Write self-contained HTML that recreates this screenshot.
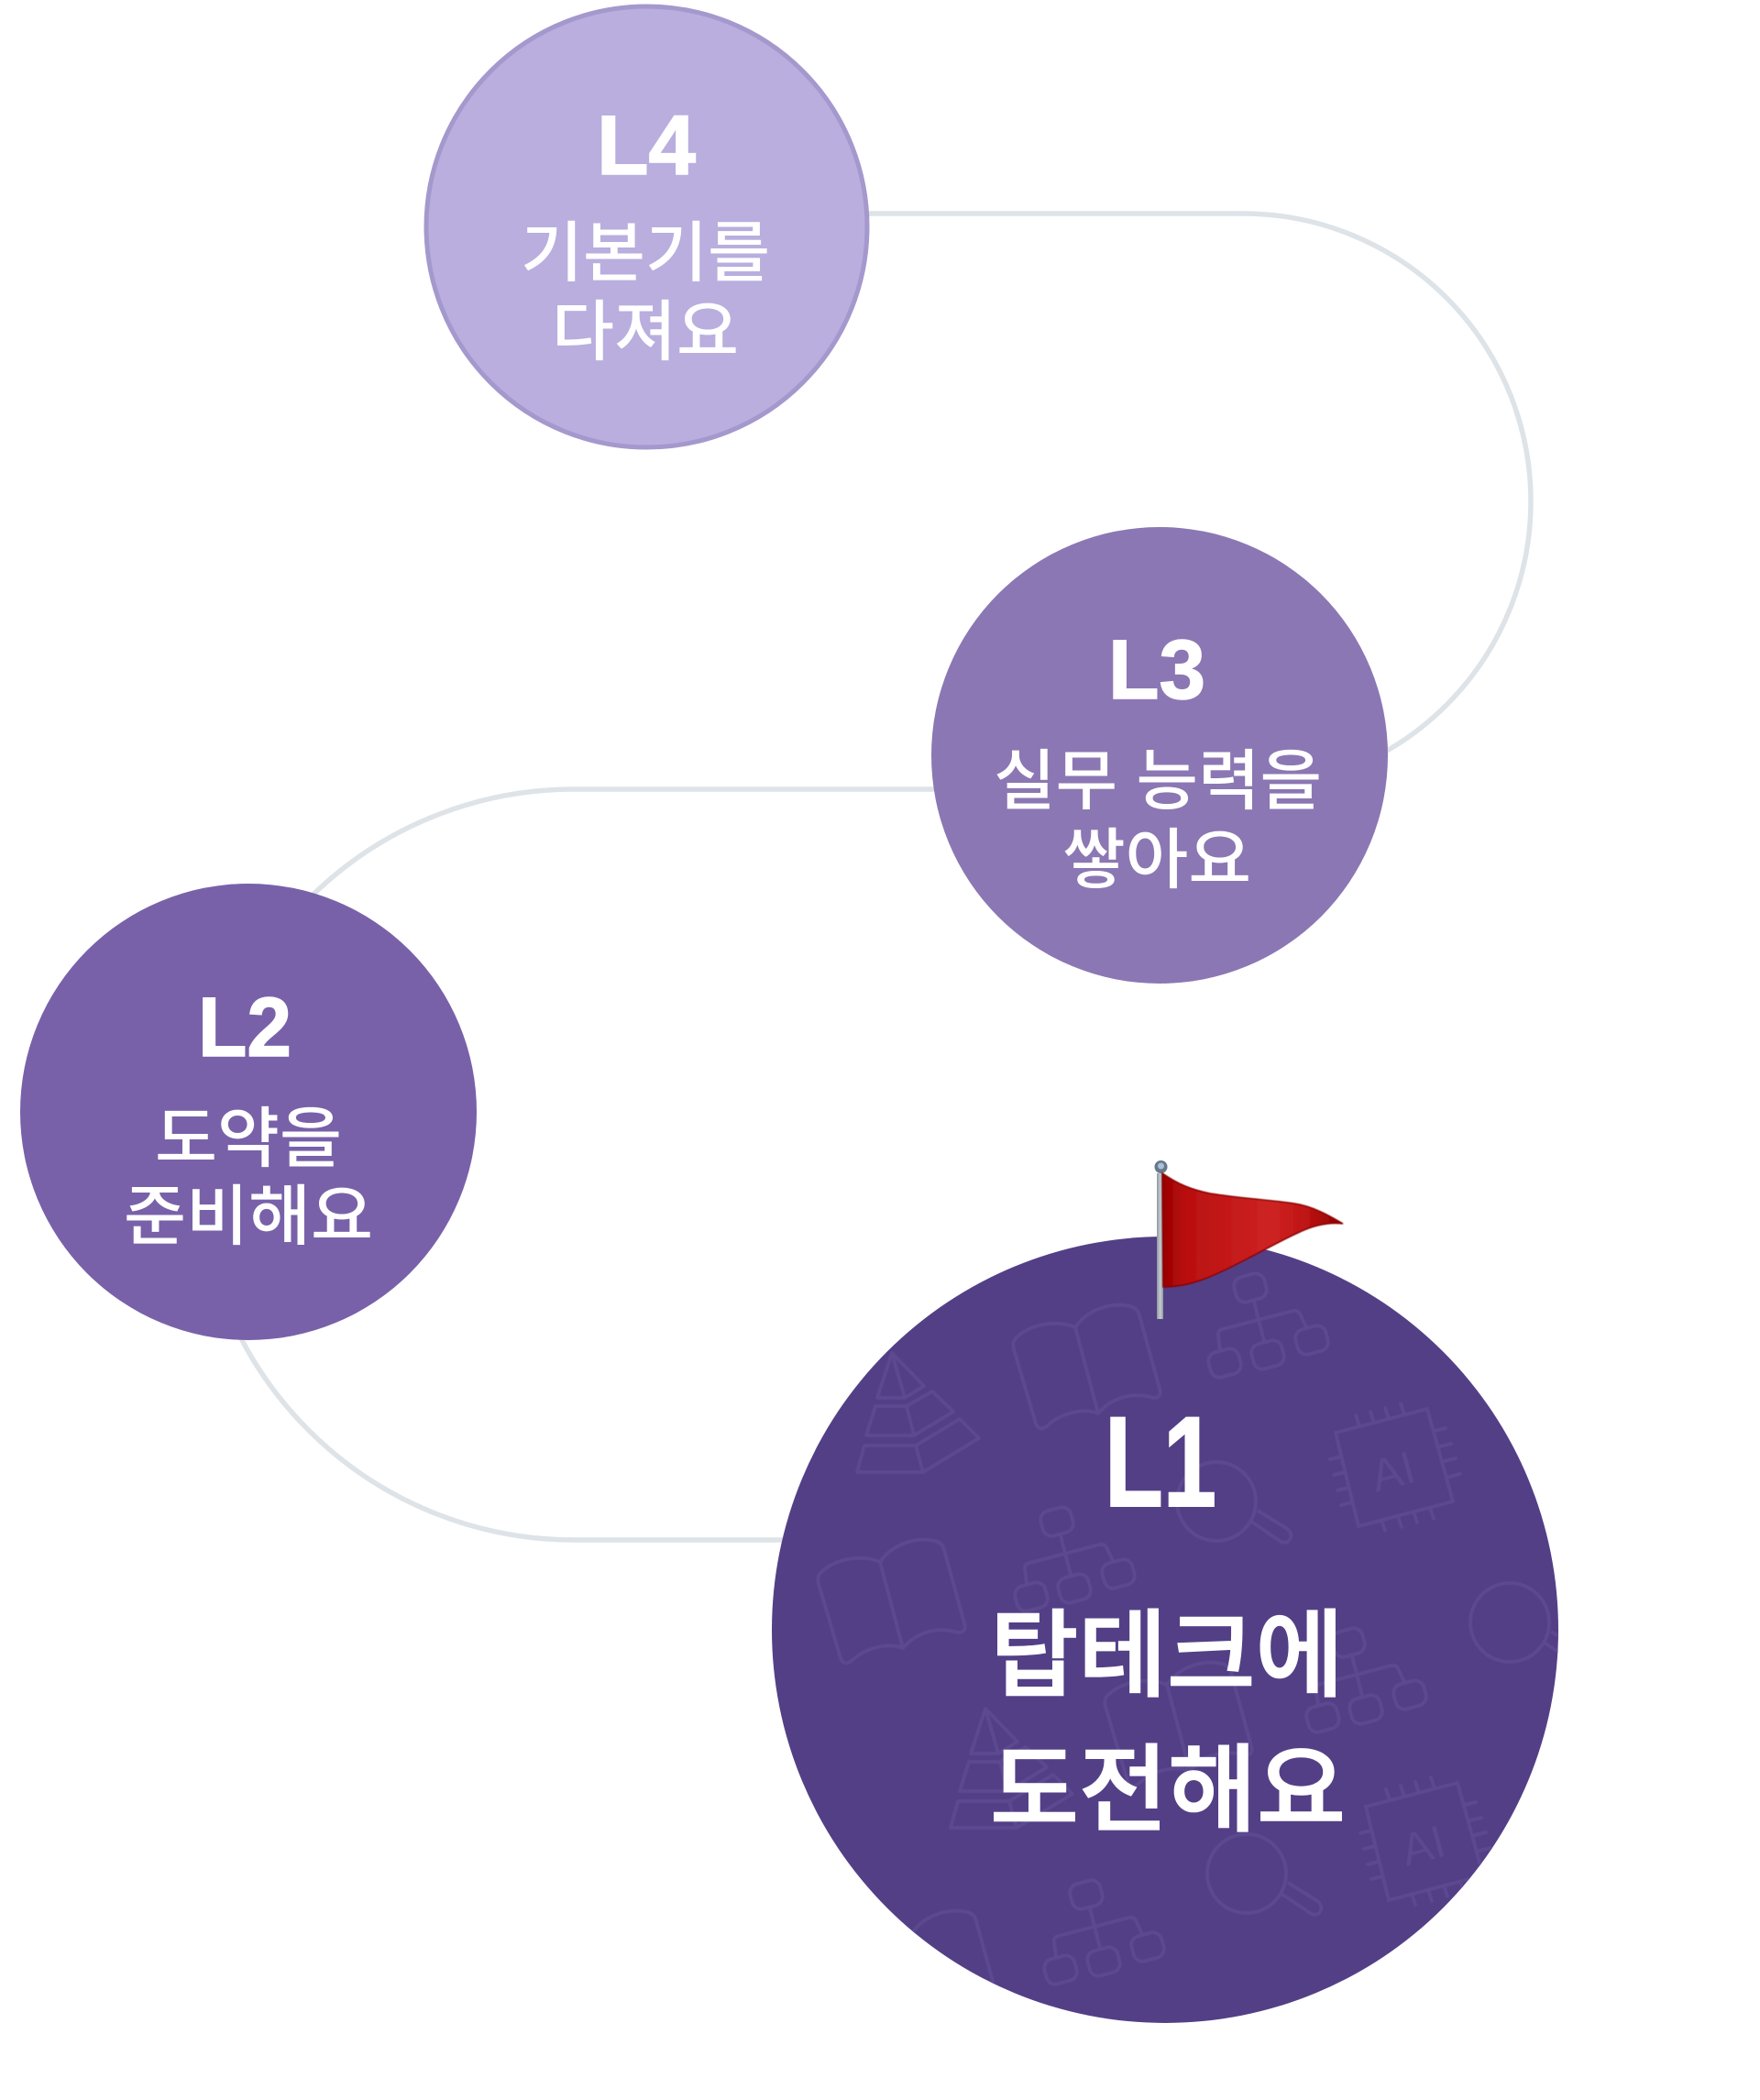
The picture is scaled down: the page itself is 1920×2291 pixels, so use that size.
<!DOCTYPE html>
<html lang="ko">
<head>
<meta charset="utf-8">
<title>L1-L4</title>
<style>
html,body{margin:0;padding:0;background:#fff;width:1920px;height:2291px;overflow:hidden}
svg{display:block}
.lv{font-family:"Liberation Sans","Noto Sans CJK KR",sans-serif;font-weight:700;fill:#fff;stroke:#fff;stroke-width:1.5}
.ko{font-family:"Liberation Sans","Noto Sans CJK KR",sans-serif;font-weight:500;fill:#fff}
.big{stroke:#fff;stroke-width:1.6}
</style>
</head>
<body>
<svg width="1920" height="2291" viewBox="0 0 1920 2291" xmlns="http://www.w3.org/2000/svg">
<defs>
<clipPath id="c1"><circle cx="1271" cy="1778" r="429"/></clipPath>
<filter id="soft" x="-5%" y="-5%" width="110%" height="110%"><feGaussianBlur stdDeviation="0.6"/></filter>
<linearGradient id="fg" gradientUnits="userSpaceOnUse" x1="1269" y1="0" x2="1466" y2="0">
<stop offset="0" stop-color="#980000"/><stop offset=".12" stop-color="#b90f0f"/><stop offset=".6" stop-color="#ce2323"/><stop offset=".78" stop-color="#c01515"/><stop offset=".95" stop-color="#9a0303"/><stop offset="1" stop-color="#a80808"/>
</linearGradient>
<linearGradient id="pg" gradientUnits="userSpaceOnUse" x1="1262" y1="0" x2="1269" y2="0">
<stop offset="0" stop-color="#8f979f"/><stop offset=".55" stop-color="#c6ccd2"/><stop offset="1" stop-color="#8f969c"/>
</linearGradient>
<g id="book" fill="none">
<path d="M1173 1448C1155 1440 1125 1443 1108 1460Q1104 1464 1106 1472L1130 1553Q1133 1562 1142 1556C1155 1543 1180 1535 1198 1542C1212 1525 1235 1518 1258 1525Q1268 1525 1265 1515L1243 1435Q1241 1427 1233 1425C1210 1420 1185 1430 1173 1448L1198 1542"/>
</g>
<g id="pyr" fill="none" stroke-linejoin="round">
<path d="M973 1476L957 1525H987L1008 1512L973 1476L987 1525"/>
<path d="M955 1534H989L997 1566H945ZM989 1534L1017 1518L1040 1540L997 1566"/>
<path d="M943 1577H999L1007 1606H935ZM999 1577L1047 1548L1068 1569L1007 1606"/>
</g>
<g id="org" fill="none">
<rect x="1136" y="1646" width="34" height="28" rx="10" transform="rotate(-15 1153 1660)"/>
<rect x="1108" y="1728" width="34" height="28" rx="10" transform="rotate(-15 1125 1742)"/>
<rect x="1155" y="1719" width="34" height="28" rx="10" transform="rotate(-15 1172 1733)"/>
<rect x="1203" y="1703" width="34" height="28" rx="10" transform="rotate(-15 1220 1717)"/>
<path d="M1157 1675L1168 1718M1120 1728L1118 1712Q1117 1706 1123 1705L1200 1685Q1206 1684 1208 1690L1214 1703"/>
</g>
<g id="mag" fill="none">
<circle cx="1327" cy="1638" r="43"/>
<path d="M1365 1660L1396 1681Q1404 1686 1408 1678Q1410 1672 1403 1667L1372 1648"/>
</g>
<g id="chip" fill="none" stroke-linecap="round">
<path d="M1457 1563L1557 1537L1585 1638L1482 1665Z"/>
<path d="M1483 1556L1479 1544M1499 1552L1495 1540M1515 1548L1511 1536M1532 1543L1528 1531"/>
<path d="M1565 1561L1577 1558M1571 1578L1583 1575M1576 1594L1588 1591M1581 1611L1593 1608"/>
<path d="M1507 1658L1511 1670M1525 1654L1529 1666M1542 1649L1546 1661M1560 1645L1564 1657"/>
<path d="M1451 1592L1463 1589M1455 1609L1467 1606M1459 1626L1471 1623M1463 1642L1475 1639"/>
</g>
</defs>

<rect width="1920" height="2291" fill="#fff"/>

<path d="M945 233H1356A314 314 0 0 1 1356 861H626A409.500 409.500 0 0 0 626 1680H860" fill="none" stroke="#dee3e8" stroke-width="5.500"/>

<circle cx="705.500" cy="247.500" r="240.500" fill="#b9aede" stroke="#a598cd" stroke-width="5"/>
<text class="lv" x="705" y="190" font-size="92" text-anchor="middle" textLength="108" lengthAdjust="spacingAndGlyphs">L4</text>
<text class="ko" x="704" y="301" font-size="72" text-anchor="middle" textLength="272" lengthAdjust="spacingAndGlyphs">기본기를</text>
<text class="ko" x="704" y="387" font-size="72" text-anchor="middle" textLength="204" lengthAdjust="spacingAndGlyphs">다져요</text>

<circle cx="1265" cy="824" r="249" fill="#8b77b3"/>
<text class="lv" x="1262" y="762" font-size="92" text-anchor="middle" textLength="106" lengthAdjust="spacingAndGlyphs">L3</text>
<text class="ko" x="1263" y="877" font-size="72" text-anchor="middle" textLength="358" lengthAdjust="spacingAndGlyphs">실무 능력을</text>
<text class="ko" x="1262" y="963" font-size="72" text-anchor="middle" textLength="206" lengthAdjust="spacingAndGlyphs">쌓아요</text>

<circle cx="271" cy="1213" r="249" fill="#7861a9"/>
<text class="lv" x="267" y="1152" font-size="92" text-anchor="middle" textLength="102" lengthAdjust="spacingAndGlyphs">L2</text>
<text class="ko" x="271" y="1267" font-size="72" text-anchor="middle" textLength="204" lengthAdjust="spacingAndGlyphs">도약을</text>
<text class="ko" x="271" y="1352" font-size="72" text-anchor="middle" textLength="272" lengthAdjust="spacingAndGlyphs">준비해요</text>

<circle cx="1271" cy="1778" r="429" fill="#533f86"/>
<g clip-path="url(#c1)"><g filter="url(#soft)" stroke="#5c4890" stroke-width="4">
<use href="#book"/>
<use href="#book" transform="translate(-213 256)"/>
<use href="#book" transform="translate(100 390)"/>
<use href="#book" transform="translate(-178 661)"/>
<use href="#pyr"/>
<use href="#pyr" transform="translate(102 388)"/>
<use href="#org"/>
<use href="#org" transform="translate(211 -255)"/>
<use href="#org" transform="translate(318 132)"/>
<use href="#org" transform="translate(32 407)"/>
<use href="#mag"/>
<use href="#mag" transform="translate(320 132)"/>
<use href="#mag" transform="translate(33 406)"/>
<use href="#chip"/>
<use href="#chip" transform="translate(33 408)"/>
</g>
<g fill="#5c4890" font-family="'Liberation Sans',sans-serif" font-size="50" filter="url(#soft)">
<text x="0" y="0" text-anchor="middle" transform="translate(1524 1622) rotate(-15)">AI</text>
<text x="0" y="0" text-anchor="middle" transform="translate(1557 2030) rotate(-15)">AI</text>
</g></g>

<text class="lv" style="stroke-width:2" x="1266" y="1643" font-size="140" text-anchor="middle" textLength="122" lengthAdjust="spacingAndGlyphs">L1</text>
<text class="ko big" x="1273" y="1842" font-size="104" text-anchor="middle" textLength="386" lengthAdjust="spacingAndGlyphs">탑테크에</text>
<text class="ko big" x="1274" y="1989" font-size="104" text-anchor="middle" textLength="388" lengthAdjust="spacingAndGlyphs">도전해요</text>

<rect x="1262" y="1280" width="7" height="159" fill="url(#pg)"/>
<circle cx="1266.500" cy="1273" r="7" fill="#66788a"/>
<circle cx="1266.500" cy="1272" r="3.500" fill="#a9c2d8"/>
<path d="M1268 1280C1285 1292 1300 1298 1320 1302C1350 1307 1385 1309 1412 1313C1432 1316 1450 1326 1465 1335C1448 1333 1433 1337 1418 1344C1395 1354 1365 1372 1333 1387C1310 1398 1290 1404 1269 1404Z" fill="url(#fg)" stroke="#8a0000" stroke-width="1.500" filter="url(#soft)"/>
</svg>
</body>
</html>
